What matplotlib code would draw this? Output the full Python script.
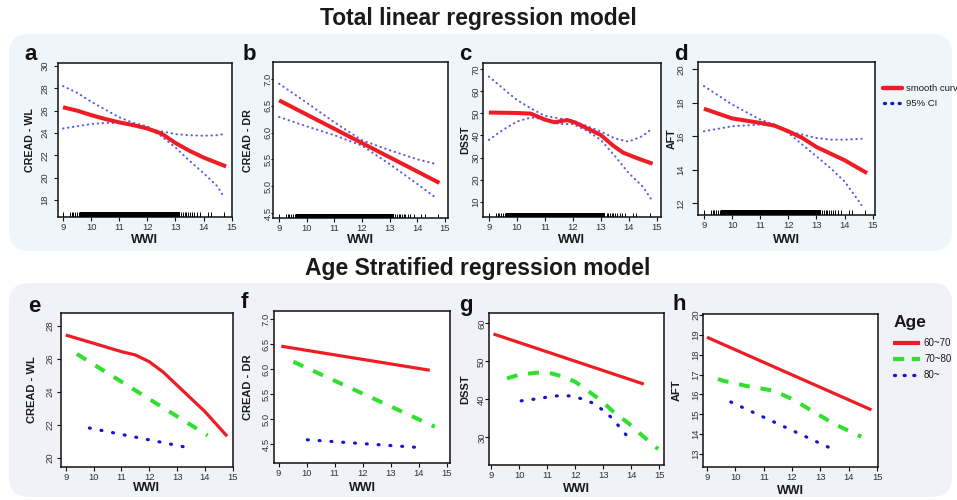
import matplotlib
matplotlib.use('Agg')
import matplotlib.pyplot as plt
from matplotlib.patches import FancyBboxPatch
from matplotlib.lines import Line2D
import matplotlib.transforms as mtransforms

plt.rcParams['font.family'] = ['Liberation Sans', 'DejaVu Sans']

# ---------------- data ----------------
xticks = [9, 10, 11, 12, 13, 14, 15]

# rug of observed WWI values
rug_sparse = [9.01, 9.25, 9.31, 9.37, 9.43, 9.49, 9.57, 13.21, 13.27, 13.33, 13.39,
              13.45, 13.51, 13.57, 13.67, 13.75, 13.87, 14.15, 14.27, 14.74]
rug_dense = (9.6, 13.15)

# (a) CREAD - WL
a_x = [9.0, 9.5, 10.0, 10.5, 11.0, 11.5, 12.0, 12.5, 13.0, 13.5, 14.0, 14.5, 14.8]
a_fit = [26.3, 26.0, 25.6, 25.25, 24.95, 24.7, 24.4, 23.95, 23.1, 22.4, 21.8, 21.3, 21.0]
a_ci_x = [9.0, 9.5, 10.0, 10.5, 11.0, 11.5, 12.0, 12.5, 13.0, 13.5, 14.0, 14.5, 14.7]
a_ci1 = [28.2, 27.6, 26.8, 26.1, 25.4, 24.9, 24.6, 23.7, 22.7, 21.5, 20.4, 19.2, 18.35]
a_ci2 = [24.4, 24.6, 24.8, 24.9, 24.9, 24.65, 24.35, 24.15, 23.9, 23.8, 23.75, 23.8, 23.9]

# (b) CREAD - DR
b_x = [9.0, 14.8]
b_fit = [6.6, 5.06]
b_ci_x = [9.0, 10.0, 11.0, 12.0, 13.0, 14.0, 14.7]
b_ci1 = [6.91, 6.555, 6.19, 5.855, 5.67, 5.50, 5.41]
b_ci2 = [6.29, 6.115, 5.95, 5.755, 5.41, 5.04, 4.77]

# (c) DSST
c_x = [9.0, 9.5, 10.0, 10.5, 11.0, 11.35, 11.8, 12.1, 12.5, 13.0, 13.45, 13.8, 14.3, 14.85]
c_fit = [50.4, 50.3, 50.2, 49.9, 47.2, 46.0, 47.0, 45.8, 43.3, 40.2, 35.3, 32.2, 29.7, 27.2]
c_ci_x = [9.0, 9.5, 10.0, 10.5, 11.0, 11.5, 12.0, 12.5, 13.0, 13.5, 14.0, 14.5, 14.8]
c_ci1 = [66.7, 61.4, 56.1, 52.3, 48.9, 47.8, 46.7, 44.3, 41.8, 38.7, 37.2, 39.8, 42.8]
c_ci2 = [38.0, 42.5, 46.3, 48.2, 47.3, 45.2, 45.2, 42.2, 38.0, 30.7, 22.9, 16.8, 11.1]

# (d) AFT
d_x = [9.0, 10.0, 11.0, 11.5, 12.0, 12.5, 13.0, 14.0, 14.8]
d_fit = [17.65, 17.07, 16.8, 16.64, 16.3, 15.9, 15.36, 14.57, 13.8]
d_ci_x = [9.0, 10.0, 11.0, 11.5, 12.0, 12.5, 13.0, 13.5, 14.0, 14.6]
d_ci1 = [19.0, 17.9, 17.0, 16.7, 16.2, 15.5, 14.8, 14.1, 13.3, 11.9]
d_ci2 = [16.3, 16.6, 16.7, 16.65, 16.3, 16.1, 15.9, 15.8, 15.8, 15.85]

# age-stratified: groups 60~70 (red), 70~80 (green), 80~ (blue)
age_groups = ['60~70', '70~80', '80~']

e_x1 = [9.0, 10.0, 11.0, 11.5, 12.0, 12.5, 13.0, 13.5, 14.0, 14.8]
e_y1 = [27.45, 26.95, 26.44, 26.24, 25.83, 25.2, 24.4, 23.6, 22.8, 21.3]
e_x2, e_y2 = [9.4, 14.1], [26.3, 21.35]
e_x3, e_y3 = [9.85, 13.25], [21.8, 20.66]

f_x1, f_y1 = [9.1, 14.4], [6.46, 5.98]
f_x2, f_y2 = [9.53, 14.58], [6.15, 4.85]
f_x3, f_y3 = [10.03, 13.9], [4.59, 4.44]

g_x1, g_y1 = [9.08, 14.45], [57.2, 44.0]
g_x2 = [9.56, 9.97, 10.6, 11.16, 11.6, 12.0, 12.4, 12.9, 13.35, 13.9, 14.37, 14.96]
g_y2 = [45.5, 46.4, 47.0, 46.8, 45.9, 44.6, 42.5, 39.8, 36.8, 33.7, 30.6, 26.9]
g_x3 = [10.07, 10.5, 10.94, 11.35, 11.78, 12.2, 12.6, 12.94, 13.26, 13.55, 13.83]
g_y3 = [39.6, 40.0, 40.5, 40.9, 40.9, 40.2, 39.1, 37.4, 35.4, 33.0, 30.5]

h_x1, h_y1 = [9.0, 14.8], [18.88, 15.22]
h_x2 = [9.39, 9.57, 10.41, 11.35, 12.03, 12.81, 13.52, 14.29, 14.44]
h_y2 = [16.78, 16.69, 16.42, 16.19, 15.75, 15.08, 14.49, 13.97, 13.87]
h_x3, h_y3 = [9.84, 13.36], [15.62, 13.29]

# ---------------- styling ----------------
W, H = 957, 500
RED = '#ee1c24'
GREEN = '#2fe02f'
BLUE = '#1414d2'
CIBLUE = '#5c5ce6'
TXT = '#1a1a1a'

fig = plt.figure(figsize=(W / 100, H / 100), dpi=100)
fig.patch.set_facecolor('white')

inch = fig.dpi_scale_trans


def box(x0, y0, x1, y1, color):
    p = FancyBboxPatch((x0 / 100, (H - y1) / 100), (x1 - x0) / 100, (y1 - y0) / 100,
                       boxstyle='round,pad=0,rounding_size=0.2', transform=inch,
                       facecolor=color, edgecolor='none', zorder=-5)
    fig.patches.append(p)


box(9, 34, 952, 251, '#eef6fb')
box(9, 283, 952, 497, '#f0f2f7')

fig.text(478 / W, 1 - 18 / H, 'Total linear regression model', ha='center', va='center',
         fontsize=16.5, fontweight='bold', color=TXT)
fig.text(478 / W, 1 - 268 / H, 'Age Stratified regression model', ha='center', va='center',
         fontsize=16.5, fontweight='bold', color=TXT)


def make_ax(l, r, t, b, xlim, ylim, yticks, ylabel, ylab_px, xlab_py, letter, lpos,
            ylab_fs, ytick_len, ytick_pad):
    ax = fig.add_axes([l / W, 1 - b / H, (r - l) / W, (b - t) / H])
    ax.set_facecolor('white')
    ax.set_xlim(*xlim)
    ax.set_ylim(*ylim)
    ax.set_xticks(xticks)
    ax.set_yticks(yticks)
    ax.set_yticklabels([('%.1f' % v) if isinstance(v, float) else ('%d' % v) for v in yticks])
    for s in ax.spines.values():
        s.set_linewidth(1.1)
        s.set_color('#111111')
    ax.tick_params(axis='both', direction='out', width=0.8, labelsize=6.8,
                   colors='#111111', labelcolor='#333333')
    ax.tick_params(axis='x', pad=1.5, length=2.8)
    ax.tick_params(axis='y', pad=ytick_pad, length=ytick_len, labelrotation=90)
    for lab in ax.get_yticklabels():
        lab.set_va('center')
        lab.set_ha('center')
    ax.set_ylabel(ylabel, fontsize=ylab_fs, fontweight='bold', va='center', color=TXT)
    ax.yaxis.set_label_coords((ylab_px - l) / (r - l), 0.5)
    ax.set_xlabel('WWI', fontsize=9, fontweight='bold', va='center', color=TXT)
    ax.xaxis.set_label_coords(0.5, (b - xlab_py) / (b - t))
    fig.text(lpos[0] / W, 1 - lpos[1] / H, letter, ha='center', va='center',
             fontsize=16, fontweight='bold', color='#111111')
    return ax


def draw_rug(ax):
    trans = mtransforms.blended_transform_factory(ax.transData, ax.transAxes)
    ax.vlines(rug_sparse, 0, 0.03, transform=trans, color='black', lw=0.7, zorder=3)
    ax.fill_between(list(rug_dense), [0, 0], [0.03, 0.03], transform=trans,
                    color='black', lw=0, zorder=3)


def ci_line(ax, x, y):
    ax.plot(x, y, color=CIBLUE, lw=1.5, linestyle=(0, (0.2, 2.2)),
            dash_capstyle='round', solid_capstyle='round', zorder=4)


def fit_line(ax, x, y):
    ax.plot(x, y, color=RED, lw=2.9, solid_capstyle='butt', zorder=5)


# top row
ax_a = make_ax(57.7, 231.7, 63.3, 216.7, (8.81, 14.99), (16.5, 30.24),
               [18, 20, 22, 24, 26, 28, 30], 'CREAD - WL', 30, 240, 'a', (31, 55), 7.7,
               2.8, 6.3)
ax_b = make_ax(273.3, 448.3, 62.3, 218.3, (8.79, 15.12), (4.40, 7.31),
               [4.5, 5.0, 5.5, 6.0, 6.5, 7.0], 'CREAD - DR', 248, 240, 'b', (249, 55), 7.7,
               1.2, 2.6)
ax_c = make_ax(482.7, 660.7, 62.7, 217.3, (8.78, 15.14), (2.9, 73),
               [10, 20, 30, 40, 50, 60, 70], 'DSST', 465, 240, 'c', (465, 54), 7.7,
               2.0, 2.8)
ax_d = make_ax(698.3, 875, 62.3, 215, (8.8, 15.08), (11.3, 20.42),
               [12, 14, 16, 18, 20], 'AFT', 671.5, 240, 'd', (681, 55), 7.7,
               4.5, 8.3)

for ax, x, fit, cx, c1, c2 in [(ax_a, a_x, a_fit, a_ci_x, a_ci1, a_ci2),
                               (ax_b, b_x, b_fit, b_ci_x, b_ci1, b_ci2),
                               (ax_c, c_x, c_fit, c_ci_x, c_ci1, c_ci2),
                               (ax_d, d_x, d_fit, d_ci_x, d_ci1, d_ci2)]:
    draw_rug(ax)
    ci_line(ax, cx, c1)
    ci_line(ax, cx, c2)
    fit_line(ax, x, fit)

# bottom row
ax_e = make_ax(61, 232.7, 313.3, 466.7, (8.83, 14.95), (19.45, 28.77),
               [20, 22, 24, 26, 28], 'CREAD - WL', 32, 488, 'e', (34, 307), 8,
               2.8, 4.9)
ax_f = make_ax(274.3, 450, 310.7, 463.3, (8.85, 15.12), (4.12, 7.17),
               [4.5, 5.0, 5.5, 6.0, 6.5, 7.0], 'CREAD - DR', 248, 488, 'f', (244, 302), 8,
               2.8, 3.2)
ax_g = make_ax(489.3, 664, 312.7, 465, (8.93, 15.17), (22.7, 62.8),
               [30, 40, 50, 60], 'DSST', 465, 489, 'g', (466, 305), 8,
               2.8, 2.7)
ax_h = make_ax(702.7, 878.3, 314, 467.3, (8.85, 15.04), (12.33, 20.05),
               [13, 14, 15, 16, 17, 18, 19, 20], 'AFT', 677, 491, 'h', (679, 305), 8,
               2.8, 2.0)

for ax, s1, s2, s3 in [(ax_e, (e_x1, e_y1), (e_x2, e_y2), (e_x3, e_y3)),
                       (ax_f, (f_x1, f_y1), (f_x2, f_y2), (f_x3, f_y3)),
                       (ax_g, (g_x1, g_y1), (g_x2, g_y2), (g_x3, g_y3)),
                       (ax_h, (h_x1, h_y1), (h_x2, h_y2), (h_x3, h_y3))]:
    ax.plot(*s1, color=RED, lw=2.3, solid_capstyle='butt', zorder=5)
    ax.plot(*s2, color=GREEN, lw=2.9, linestyle=(0, (2.7, 2.7)), dash_capstyle='butt', zorder=4)
    ax.plot(*s3, color=BLUE, lw=2.3, linestyle=(0, (0.3, 3.4)), dash_capstyle='round', zorder=4)

# ---------------- legends ----------------
def fline(x0, x1, y, **kw):
    fig.lines.append(Line2D([x0 / W, x1 / W], [1 - y / H, 1 - y / H],
                            transform=fig.transFigure, **kw))


fline(883, 902, 88.3, color=RED, lw=3.2, solid_capstyle='round')
fig.text(906 / W, 1 - 88.3 / H, 'smooth curve', ha='left', va='center', fontsize=6.8, color=TXT)
fline(884, 901, 103, color=BLUE, lw=2.4, linestyle=(0, (0.3, 1.9)), dash_capstyle='round')
fig.text(906 / W, 1 - 103 / H, '95% CI', ha='left', va='center', fontsize=6.8, color=TXT)

fig.text(894 / W, 1 - 322.7 / H, 'Age', ha='left', va='center', fontsize=12.5,
         fontweight='bold', color=TXT)
leg_y = [343.3, 359, 375]
fline(893, 920, leg_y[0], color=RED, lw=3.0, solid_capstyle='butt')
fline(893, 920, leg_y[1], color=GREEN, lw=3.0, linestyle=(0, (2.7, 1.8)), dash_capstyle='butt')
fline(894, 919, leg_y[2], color=BLUE, lw=2.4, linestyle=(0, (0.3, 2.6)), dash_capstyle='round')
for y, lab in zip(leg_y, age_groups):
    fig.text(924 / W, 1 - y / H, lab, ha='left', va='center', fontsize=7, color=TXT)

fig.savefig('out.png', dpi=100)
